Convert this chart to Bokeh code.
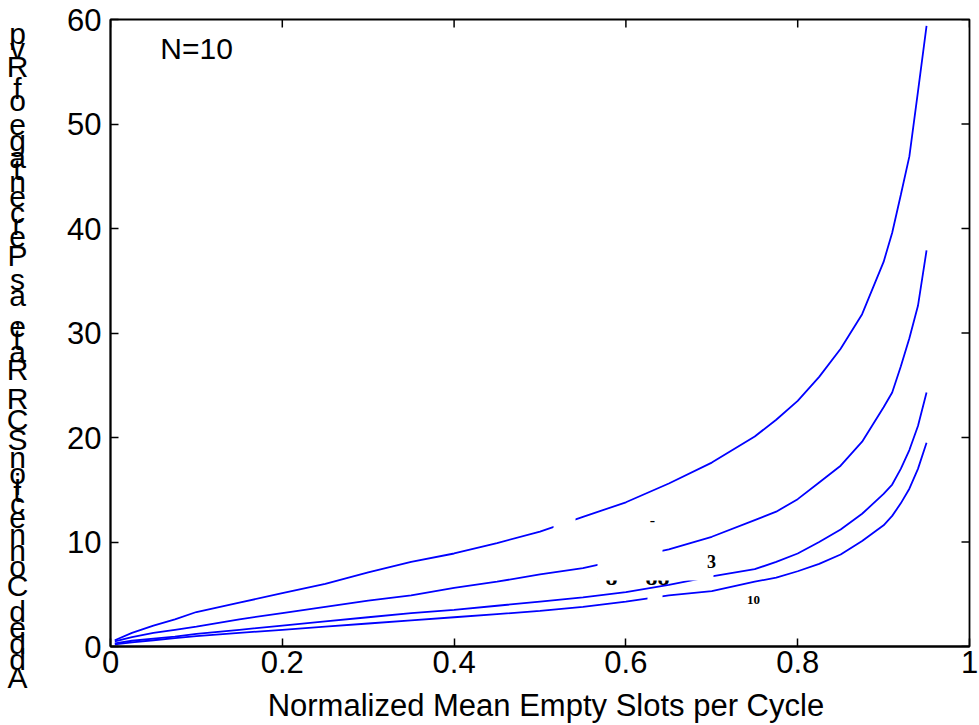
from bokeh.plotting import figure
from bokeh.layouts import row, column
from bokeh.models import Range1d, FixedTicker, Label, BoxAnnotation
from bokeh.embed import file_html
from bokeh.resources import INLINE

# ---------------- data ----------------
x_vals = [0.005, 0.025, 0.05, 0.075, 0.1, 0.15, 0.2, 0.25, 0.3, 0.35, 0.4, 0.45, 0.5,
          0.55, 0.6, 0.65, 0.7, 0.75, 0.775, 0.8, 0.825, 0.85, 0.875, 0.9, 0.91, 0.92,
          0.93, 0.94, 0.95]
y_curve1 = [0.6, 1.3, 2.0, 2.6, 3.3, 4.2, 5.1, 6.0, 7.1, 8.1, 8.9, 9.9, 11.0,
            12.4, 13.8, 15.6, 17.6, 20.1, 21.7, 23.5, 25.8, 28.5, 31.8, 36.8, 39.6, 43.2,
            46.9, 53.1, 59.4]
y_curve2 = [0.5, 0.9, 1.3, 1.6, 1.9, 2.6, 3.2, 3.8, 4.4, 4.9, 5.6, 6.2, 6.9,
            7.5, 8.4, 9.3, 10.5, 12.1, 12.9, 14.1, 15.7, 17.3, 19.6, 22.9, 24.3, 26.8,
            29.5, 32.6, 37.9]
y_curve3 = [0.3, 0.55, 0.75, 0.95, 1.2, 1.6, 2.0, 2.4, 2.8, 3.2, 3.5, 3.9, 4.3,
            4.7, 5.2, 5.9, 6.7, 7.4, 8.1, 8.9, 10.0, 11.2, 12.7, 14.6, 15.5, 17.0,
            18.8, 21.1, 24.3]
y_curve4 = [0.2, 0.4, 0.6, 0.8, 1.0, 1.3, 1.6, 1.9, 2.2, 2.5, 2.8, 3.1, 3.4,
            3.8, 4.3, 4.9, 5.3, 6.2, 6.6, 7.2, 7.9, 8.8, 10.1, 11.6, 12.5, 13.7,
            15.1, 17.0, 19.5]
series = [y_curve1, y_curve2, y_curve3, y_curve4]

x_ticks = [0, 0.2, 0.4, 0.6, 0.8, 1]
x_tick_labels = ["0", "0.2", "0.4", "0.6", "0.8", "1"]
y_ticks = [0, 10, 20, 30, 40, 50, 60]

x_label = "Normalized Mean Empty Slots per Cycle"
y_label = "Added ConnectionSCR Rate, as Percentage of Rvp"   # drawn as stacked upright glyphs
annotation_text = "N=10"

FONT = "Liberation Sans"
BLUE = "#0000ff"

# page geometry (px)
LEFT_W = 30          # strip holding the stacked y label
MAIN_W = 948
TOP_H = 687          # main plot height
BOT_H = 37           # strip holding the x label
FRAME_L, FRAME_R, FRAME_T, FRAME_B = 110, 969, 19, 646


def text_canvas(w, h):
    f = figure(width=w, height=h, output_backend="svg", toolbar_location=None,
               x_range=Range1d(0, w), y_range=Range1d(h, 0),
               x_axis_location=None, y_axis_location=None,
               min_border=0, min_border_left=0, min_border_right=0,
               min_border_top=0, min_border_bottom=0,
               background_fill_color="white", border_fill_color="white")
    f.grid.visible = False
    f.outline_line_color = None
    return f

# ---------------- main figure ----------------
p = figure(width=MAIN_W, height=TOP_H, output_backend="svg", toolbar_location=None,
           x_range=Range1d(0, 1), y_range=Range1d(0, 60),
           min_border_left=FRAME_L - LEFT_W, min_border_right=MAIN_W + LEFT_W - FRAME_R,
           min_border_top=FRAME_T, min_border_bottom=TOP_H - FRAME_B,
           background_fill_color="white", border_fill_color="white")
p.grid.visible = False
p.outline_line_color = "black"
p.outline_line_width = 1.8

for ys in series:
    p.line(x_vals, ys, line_color=BLUE, line_width=1.8)


def style_axis(ax):
    ax.axis_line_color = "black"
    ax.axis_line_width = 1.8
    ax.major_tick_line_color = "black"
    ax.major_tick_line_width = 1.5
    ax.major_tick_in = 8
    ax.major_tick_out = 0
    ax.minor_tick_line_color = None
    ax.major_label_text_font = FONT
    ax.major_label_text_color = "black"
    ax.major_label_text_font_size = "31px"

xa = p.xaxis[0]
xa.ticker = FixedTicker(ticks=x_ticks)
xa.major_label_overrides = {t: s for t, s in zip(x_ticks, x_tick_labels)}
style_axis(xa)
xa.major_label_standoff = 4

ya = p.yaxis[0]
ya.ticker = FixedTicker(ticks=y_ticks)
style_axis(ya)
ya.major_label_standoff = 9

# inward ticks on the top and right edges (box style)
frame_w = FRAME_R - FRAME_L
frame_h = FRAME_B - FRAME_T
tick_len_y = 8 * 60 / frame_h
tick_len_x = 8 * 1 / frame_w
p.segment(x0=x_ticks, y0=[60] * len(x_ticks), x1=x_ticks,
          y1=[60 - tick_len_y] * len(x_ticks), line_color="black", line_width=1.5)
p.segment(x0=[1] * len(y_ticks), y0=y_ticks, x1=[1 - tick_len_x] * len(y_ticks),
          y1=y_ticks, line_color="black", line_width=1.5)

p.add_layout(Label(x=0.058, y=57.2, text=annotation_text, text_font=FONT,
                   text_font_size="30px", text_baseline="middle", text_align="left",
                   text_color="black"))


def px_to_x(px):
    return (px - FRAME_L) / frame_w


def px_to_y(py):
    return (FRAME_B - py) * 60 / frame_h

# partially masked inset text (as in the original figure): drawn underneath the masks
p.add_layout(Label(x=px_to_x(597), y=px_to_y(576), text="-8  - -88",
                   text_font="Liberation Serif", text_font_size="24px",
                   text_font_style="bold", text_align="left", text_baseline="middle",
                   text_color="black", level="underlay"))
for (x0, x1, y0, y1) in [(553, 575, 530, 515), (597, 662, 580, 535),
                         (660, 713, 580, 556), (647, 662, 604, 592)]:
    p.add_layout(BoxAnnotation(left=px_to_x(x0), right=px_to_x(x1),
                               bottom=px_to_y(y0), top=px_to_y(y1),
                               fill_color="white", fill_alpha=1.0, line_color=None))
p.add_layout(Label(x=px_to_x(652), y=px_to_y(520), text="-",
                   text_font="Liberation Serif", text_font_size="16px",
                   text_align="center", text_baseline="middle", text_color="black"))
p.add_layout(Label(x=px_to_x(711), y=px_to_y(561), text="3",
                   text_font="Liberation Serif", text_font_size="18px",
                   text_font_style="bold", text_align="center", text_baseline="middle",
                   text_color="black"))
p.add_layout(Label(x=px_to_x(753), y=px_to_y(599), text="10",
                   text_font="Liberation Serif", text_font_size="13px",
                   text_font_style="bold", text_align="center", text_baseline="middle",
                   text_color="black"))

# ---------------- left strip: stacked y label ----------------
left = text_canvas(LEFT_W, TOP_H + BOT_H)
widths = {"A": .667, "d": .556, "e": .556, " ": .278, "C": .722, "o": .556, "n": .556,
          "c": .5, "t": .278, "i": .222, "S": .667, "R": .722, "a": .556, ",": .278,
          "s": .5, "P": .667, "r": .333, "g": .556, "f": .278, "v": .5, "p": .556}
k = 28.9
cum = 0.0
start = 677 + widths["A"] / 2 * k
for ch in y_label:
    w = widths.get(ch, .556)
    ypix = start - (cum + w / 2) * k
    cum += w
    if ch == " ":
        continue
    left.add_layout(Label(x=17, y=ypix, text=ch, text_font=FONT, text_font_size="30px",
                          text_align="center", text_baseline="middle",
                          text_color="black"))

# ---------------- bottom strip: x label ----------------
bottom = text_canvas(MAIN_W, BOT_H)
bottom.add_layout(Label(x=(FRAME_L + FRAME_R) / 2 - LEFT_W - 29, y=18, text=x_label,
                        text_font=FONT, text_font_size="31px", text_align="center",
                        text_baseline="middle", text_color="black"))

layout = row(left, column(p, bottom, spacing=0), spacing=0)
open("out.html", "w").write(file_html(layout, INLINE))
